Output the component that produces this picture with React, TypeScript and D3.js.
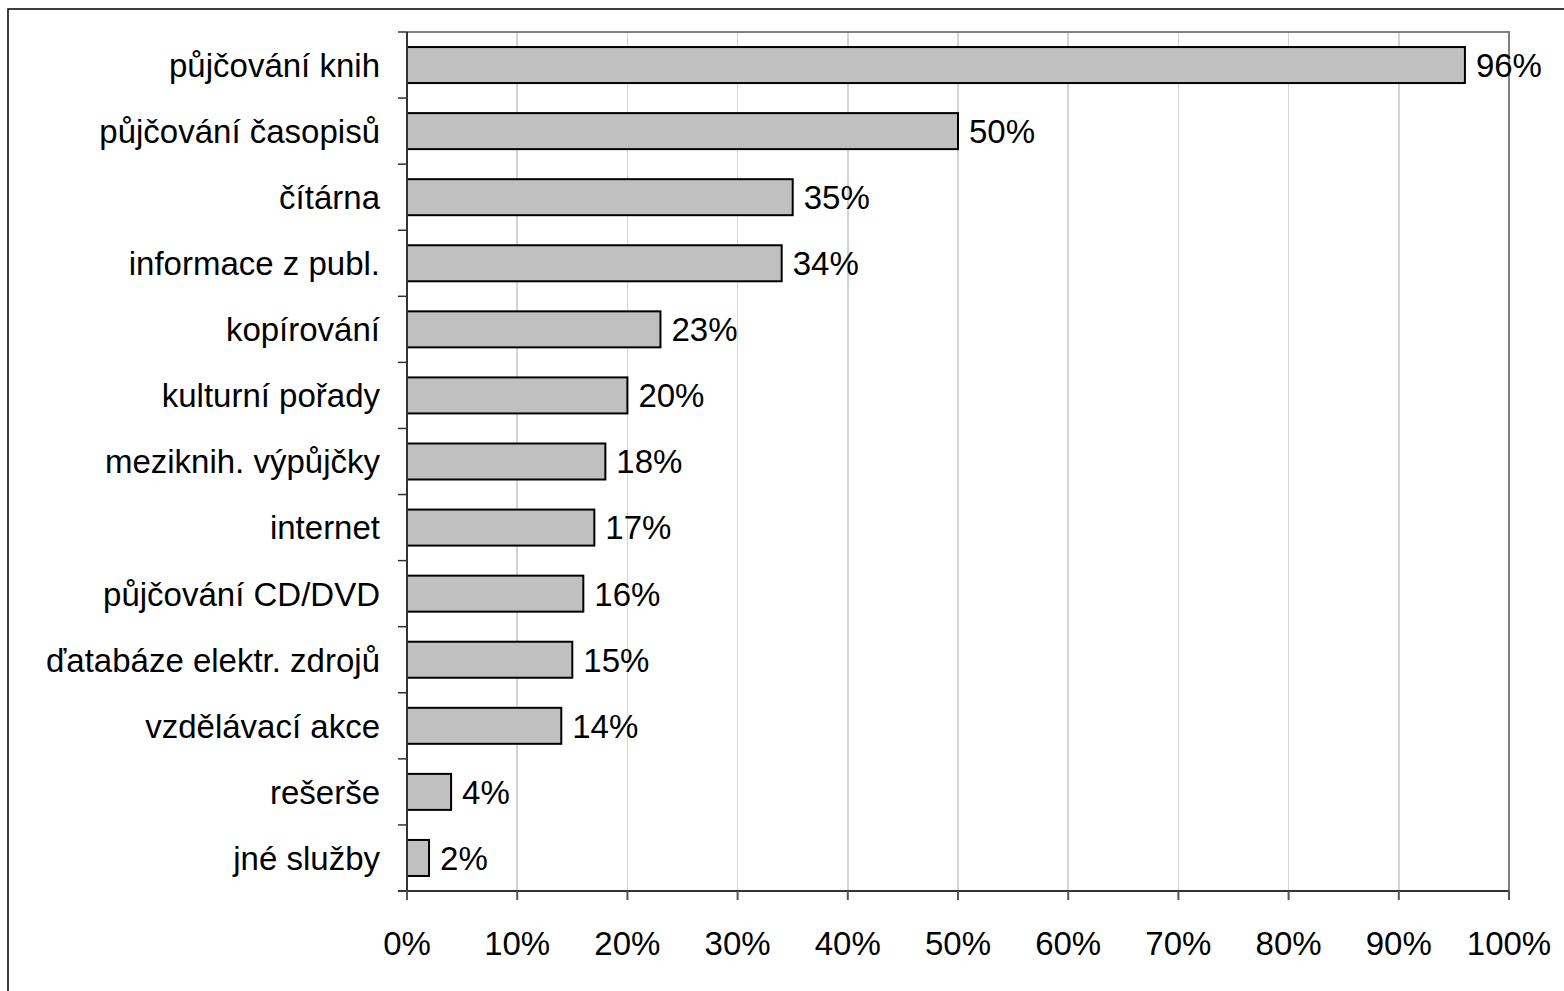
import * as d3 from "d3";
import { useEffect, useRef } from "react";

const categories = [
  "půjčování knih",
  "půjčování časopisů",
  "čítárna",
  "informace z publ.",
  "kopírování",
  "kulturní pořady",
  "meziknih. výpůjčky",
  "internet",
  "půjčování CD/DVD",
  "ďatabáze elektr. zdrojů",
  "vzdělávací akce",
  "rešerše",
  "jné služby",
];
const values = [96, 50, 35, 34, 23, 20, 18, 17, 16, 15, 14, 4, 2];
const xTicks = [0, 10, 20, 30, 40, 50, 60, 70, 80, 90, 100];

export default function App() {
  const svgRef = useRef<SVGSVGElement | null>(null);

  useEffect(() => {
    if (!svgRef.current) return;
    const svg = d3.select(svgRef.current);
    svg.selectAll("*").remove();

    const width = 1564;
    const height = 991;
    const font = "'Liberation Sans', Arial, sans-serif";
    const fontSize = 33;
    const plot = { left: 407, right: 1509, top: 32, bottom: 891 };

    // outer frame (runs off right/bottom edge)
    svg
      .append("rect")
      .attr("x", 8)
      .attr("y", 9)
      .attr("width", width)
      .attr("height", height)
      .attr("fill", "none")
      .attr("stroke", "#000")
      .attr("stroke-width", 1.5);

    const x = d3.scaleLinear().domain([0, 100]).range([plot.left, plot.right]);
    const y = d3
      .scaleBand()
      .domain(categories)
      .range([plot.top, plot.bottom])
      .padding(0);
    const barH = y.bandwidth() * 0.545;

    // vertical grid lines
    svg
      .append("g")
      .selectAll("line")
      .data(xTicks.slice(1, -1))
      .join("line")
      .attr("x1", (d) => x(d))
      .attr("x2", (d) => x(d))
      .attr("y1", plot.top)
      .attr("y2", plot.bottom)
      .attr("stroke", "#d4d4d4")
      .attr("stroke-width", 1.5)
      .attr("shape-rendering", "crispEdges");

    // plot border (top + right)
    svg
      .append("path")
      .attr(
        "d",
        `M${plot.left},${plot.top}H${plot.right}V${plot.bottom}`,
      )
      .attr("fill", "none")
      .attr("stroke", "#808080")
      .attr("stroke-width", 2);

    // bars
    svg
      .append("g")
      .selectAll("rect")
      .data(values)
      .join("rect")
      .attr("x", x(0))
      .attr("y", (_, i) => y(categories[i])! + (y.bandwidth() - barH) / 2)
      .attr("width", (d) => x(d) - x(0))
      .attr("height", barH)
      .attr("fill", "#c0c0c0")
      .attr("stroke", "#000")
      .attr("stroke-width", 2);

    // value labels
    svg
      .append("g")
      .selectAll("text")
      .data(values)
      .join("text")
      .attr("x", (d) => x(d) + 11)
      .attr("y", (_, i) => y(categories[i])! + y.bandwidth() / 2)
      .attr("dy", "0.36em")
      .attr("font-family", font)
      .attr("font-size", fontSize)
      .attr("fill", "#000")
      .text((d) => `${d}%`);

    // y axis
    const yAxis = svg.append("g");
    yAxis
      .append("line")
      .attr("x1", plot.left)
      .attr("x2", plot.left)
      .attr("y1", plot.top)
      .attr("y2", plot.bottom)
      .attr("stroke", "#333")
      .attr("stroke-width", 2);
    const bounds = [...categories.map((c) => y(c)!), plot.bottom];
    yAxis
      .selectAll("line.tick")
      .data(bounds)
      .join("line")
      .attr("class", "tick")
      .attr("x1", plot.left - 9)
      .attr("x2", plot.left)
      .attr("y1", (d) => d)
      .attr("y2", (d) => d)
      .attr("stroke", "#333")
      .attr("stroke-width", 1.5);
    yAxis
      .selectAll("text")
      .data(categories)
      .join("text")
      .attr("x", plot.left - 27)
      .attr("y", (d) => y(d)! + y.bandwidth() / 2)
      .attr("dy", "0.36em")
      .attr("text-anchor", "end")
      .attr("font-family", font)
      .attr("font-size", fontSize)
      .attr("fill", "#000")
      .text((d) => d);

    // x axis
    const xAxis = svg.append("g");
    xAxis
      .append("line")
      .attr("x1", plot.left - 9)
      .attr("x2", plot.right)
      .attr("y1", plot.bottom)
      .attr("y2", plot.bottom)
      .attr("stroke", "#333")
      .attr("stroke-width", 2);
    xAxis
      .selectAll("line.tick")
      .data(xTicks)
      .join("line")
      .attr("class", "tick")
      .attr("x1", (d) => x(d))
      .attr("x2", (d) => x(d))
      .attr("y1", plot.bottom)
      .attr("y2", plot.bottom + 9)
      .attr("stroke", "#555")
      .attr("stroke-width", 2);
    xAxis
      .selectAll("text")
      .data(xTicks)
      .join("text")
      .attr("x", (d) => x(d))
      .attr("y", 943)
      .attr("dy", "0.36em")
      .attr("text-anchor", "middle")
      .attr("font-family", font)
      .attr("font-size", fontSize)
      .attr("fill", "#000")
      .text((d) => `${d}%`);
  }, []);

  return (
    <svg
      ref={svgRef}
      width={1564}
      height={991}
      style={{ position: "fixed", left: 0, top: 0, background: "#fff" }}
    ></svg>
  );
}
